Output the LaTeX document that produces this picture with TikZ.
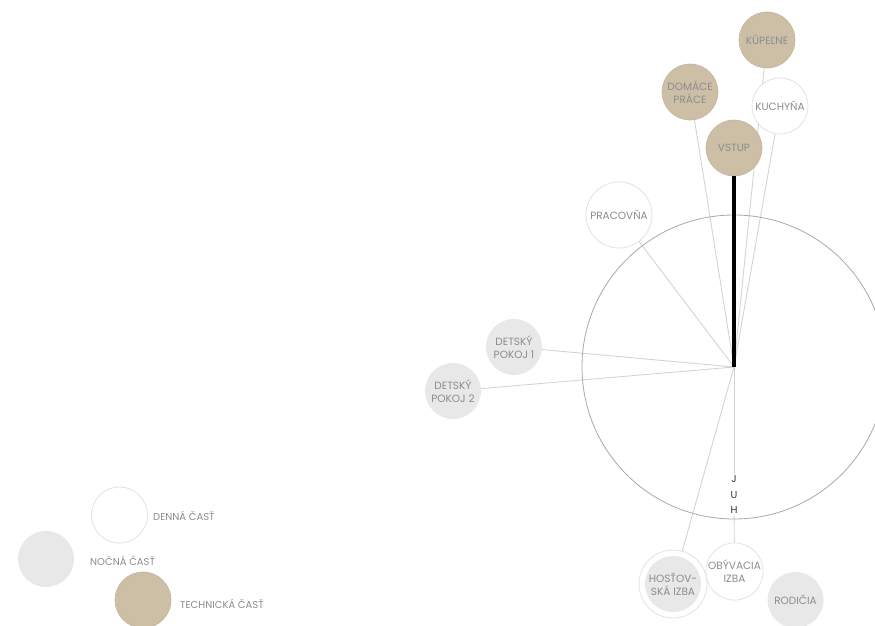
\documentclass[tikz,border=0pt]{standalone}
\usepackage{fontspec}
\setmainfont{Poppins}
\usetikzlibrary{backgrounds}
\definecolor{tan}{HTML}{CDBFA6}
\definecolor{ngray}{HTML}{E8E8E8}
\definecolor{txt}{HTML}{8C8C8C}
\definecolor{conn}{HTML}{D4D4D4}
\definecolor{ring}{HTML}{E2E2E2}
\definecolor{bigc}{HTML}{A8A8A8}
\begin{document}
\begin{tikzpicture}[x=1pt,y=-1pt,
 room/.style={circle, minimum size=56pt, inner sep=0pt, align=center, text=txt, font=\fontsize{10.5}{13}\selectfont},
 day/.style={room, fill=white, draw=ring, line width=0.8pt},
 night/.style={room, fill=ngray},
 tech/.style={room, fill=tan, draw=tan!85!gray, line width=0.6pt},
 link/.style={draw=conn, line width=0.9pt},
 legtxt/.style={text=txt, font=\fontsize{10}{12}\selectfont, anchor=west, inner sep=0pt}
]
\useasboundingbox (0,0) rectangle (875,626);
\coordinate (hub) at (734,367);
\draw[bigc, line width=0.8pt] (hub) circle (152);

\node[tech] (kup) at (767,40) {KÚPEĽNE};
\node[tech] (dom) at (690,92) {DOMÁCE\\PRÁCE};
\node[day] (kuch) at (780,106) {KUCHYŇA};
\node[tech] (vstup) at (734,148) {VSTUP};
\node[day, minimum size=66pt] (prac) at (619,215) {PRACOVŇA};
\node[night] (dp1) at (514,347) {DETSKÝ\\POKOJ 1};
\node[night] (dp2) at (453,391) {DETSKÝ\\POKOJ 2};
\node[day, minimum size=68pt] (host) at (673,584) {};
\node[night] (hostin) at (host) {HOSŤOV-\\SKÁ IZBA};
\node[day] (oby) at (734.5,571.5) {OBÝVACIA\\IZBA};
\node[night] (rod) at (795.5,600) {RODIČIA};
\node[align=center, inner sep=2pt, font=\fontsize{10}{15.5}\selectfont, text=black!80] (juh) at (734,495) {J\\U\\H};

\begin{scope}[on background layer]
\foreach \n in {kup,dom,kuch,prac,dp1,dp2,host} \draw[link] (hub) -- (\n);
\draw[link] (hub) -- (juh);
\draw[link] (juh) -- (oby);
\end{scope}
\draw[black, line width=3.5pt] (hub) -- (vstup);

\node[day] (ld) at (119.5,515) {};
\node[legtxt] (ldt) at (153,516) {DENNÁ ČASŤ};
\node[night] (ln) at (46,559) {};
\node[legtxt] (lnt) at (90,561) {NOČNÁ ČASŤ};
\node[tech] (lt) at (143,600) {};
\node[legtxt] (ltt) at (180,604) {TECHNICKÁ ČASŤ};
\end{tikzpicture}
\end{document}
